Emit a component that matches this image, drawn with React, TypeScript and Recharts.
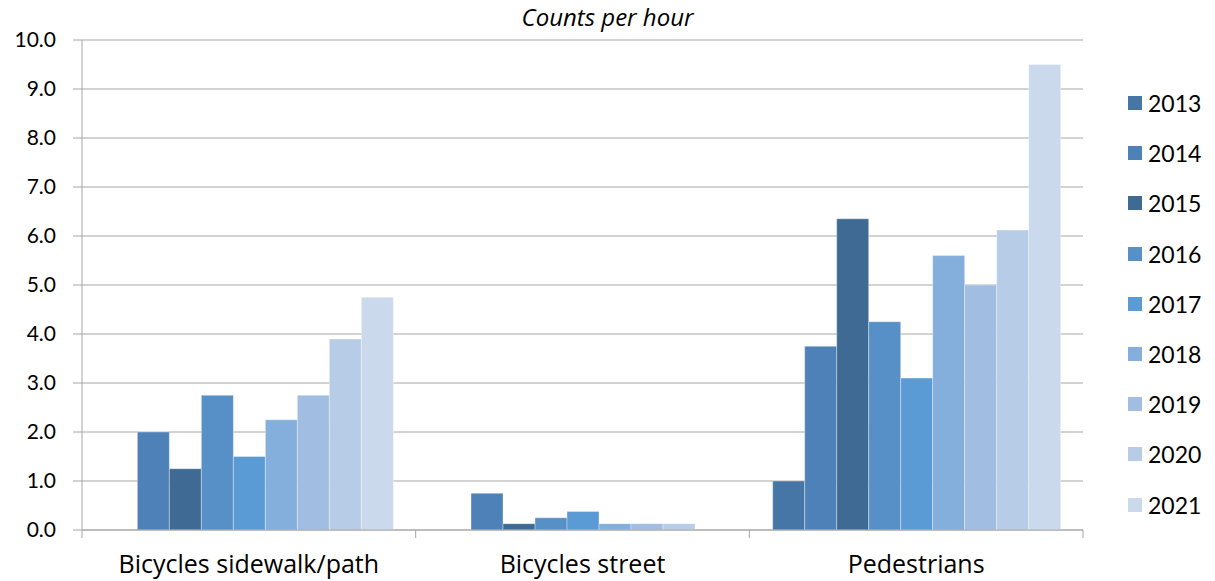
import { BarChart, Bar, XAxis, YAxis, CartesianGrid } from "recharts";

const categories = ["Bicycles sidewalk/path", "Bicycles street", "Pedestrians"];
const years = ["2013", "2014", "2015", "2016", "2017", "2018", "2019", "2020", "2021"];
const colors = ["#4676a6", "#4d81b7", "#3e6a93", "#5690c6", "#5b9bd5", "#84aedb", "#a1bde1", "#b7cce6", "#cad9ec"];

// values per year, in category order
const v2013 = [null, null, 1.0];
const v2014 = [2.0, 0.75, 3.75];
const v2015 = [1.25, 0.13, 6.35];
const v2016 = [2.75, 0.25, 4.25];
const v2017 = [1.5, 0.38, 3.1];
const v2018 = [2.25, 0.13, 5.6];
const v2019 = [2.75, 0.13, 5.0];
const v2020 = [3.9, 0.13, 6.12];
const v2021 = [4.75, null, 9.5];

const yTicks = [0, 1, 2, 3, 4, 5, 6, 7, 8, 9, 10];

const series = [v2013, v2014, v2015, v2016, v2017, v2018, v2019, v2020, v2021];
const data = categories.map((name, i) => {
  const row: Record<string, string | number | null> = { name };
  years.forEach((y, j) => (row[y] = series[j][i]));
  return row;
});

const FONT = "Lato, 'Open Sans', sans-serif";
const LABEL_FONT = "'Open Sans', sans-serif";
const GRID = "#a6a6a6";

// category label plus tick marks on the band edges (Excel style)
function CategoryTick(props: any) {
  const { x, y, payload, index, visibleTicksCount } = props;
  const half = payload?.offset ?? 0;
  const last = index === visibleTicksCount - 1;
  return (
    <g>
      {half > 0 && <line x1={x - half} x2={x - half} y1={y} y2={y + 8} stroke={GRID} />}
      {half > 0 && last && <line x1={x + half} x2={x + half} y1={y} y2={y + 8} stroke={GRID} />}
      <text x={x} y={y + 25} dy="0.71em" textAnchor="middle" fontSize={25} fill="#000" fontFamily={LABEL_FONT}>
        {payload.value}
      </text>
    </g>
  );
}

function YearLegend() {
  return (
    <div style={{ position: "absolute", left: 1128, top: 78, display: "flex", flexDirection: "column" }}>
      {years.map((y, i) => (
        <div key={y} style={{ display: "flex", alignItems: "center", height: 50.2 }}>
          <span style={{ width: 14, height: 14, background: colors[i], marginRight: 6 }} />
          <span style={{ fontSize: 23, color: "#000", fontFamily: FONT }}>{y}</span>
        </div>
      ))}
    </div>
  );
}

export default function App() {
  return (
    <div style={{ position: "absolute", left: 0, top: 0, width: 1215, height: 581, fontFamily: FONT, background: "#fff", overflow: "hidden" }}>
      <div style={{ position: "absolute", top: 0, left: 0, width: 1215, textAlign: "center", fontSize: 24, fontStyle: "italic", color: "#000", fontFamily: LABEL_FONT }}>
        Counts per hour
      </div>
      <BarChart
        width={1215}
        height={581}
        data={data}
        margin={{ top: 40, right: 132, bottom: 0, left: 0 }}
        barCategoryGap="7%"
        barGap={0}
      >
        <CartesianGrid vertical={false} stroke={GRID} strokeWidth={1} />
        <XAxis
          dataKey="name"
          height={51}
          axisLine={{ stroke: GRID }}
          tickLine={false}
          tickSize={0}
          tickMargin={0}
          tick={<CategoryTick />}
          interval={0}
        />
        <YAxis
          width={82}
          domain={[0, 10]}
          ticks={yTicks}
          interval={0}
          tickFormatter={(v: number) => v.toFixed(1)}
          axisLine={{ stroke: GRID }}
          tickLine={{ stroke: GRID }}
          tickSize={9}
          tickMargin={17}
          tick={{ fontSize: 21, fill: "#000", fontFamily: FONT }}
        />
        {years.map((y, i) => (
          <Bar key={y} dataKey={y} fill={colors[i]} stroke="#ffffff" strokeOpacity={0.35} strokeWidth={1} isAnimationActive={false} />
        ))}
      </BarChart>
      <YearLegend />
    </div>
  );
}
